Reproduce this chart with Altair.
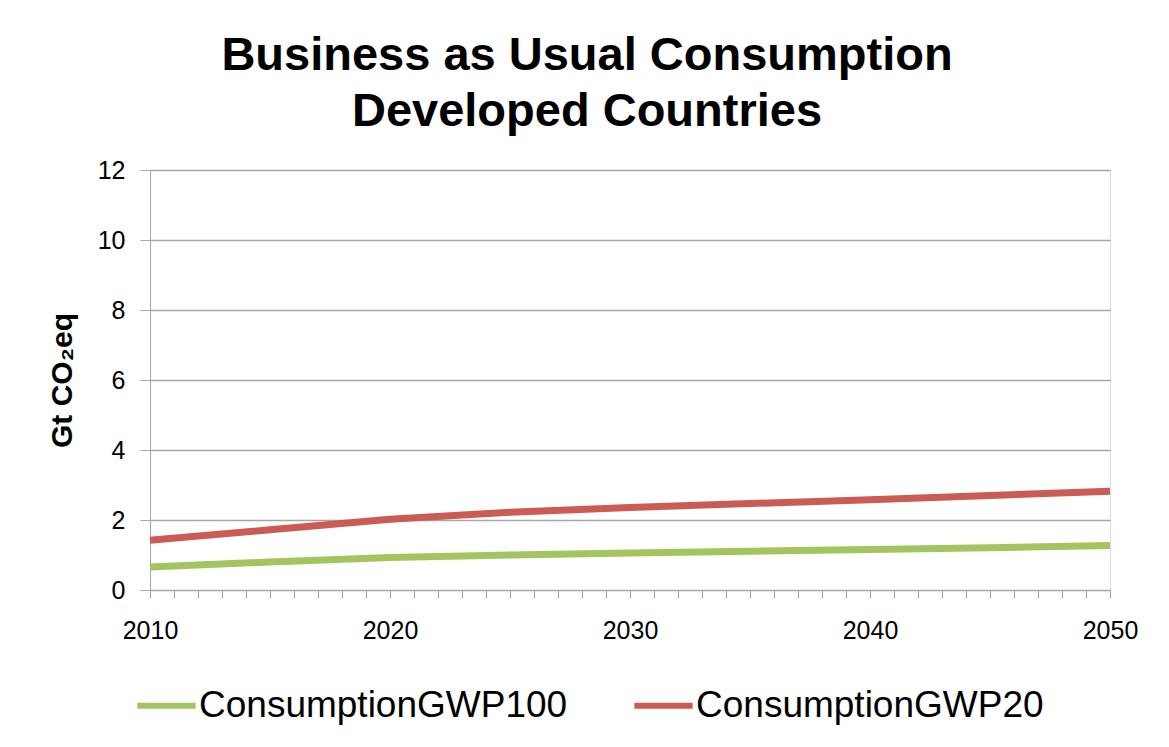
import altair as alt
import pandas as pd

years = [2010, 2015, 2020, 2025, 2030, 2035, 2040, 2045, 2050]
gwp100 = [0.66, 0.80, 0.93, 1.00, 1.06, 1.11, 1.16, 1.21, 1.27]
gwp20 = [1.42, 1.72, 2.02, 2.22, 2.36, 2.47, 2.58, 2.70, 2.82]
series_names = ["ConsumptionGWP100", "ConsumptionGWP20"]
series_colors = ["#A3C45F", "#CA5C54"]

rows = []
for name, vals in zip(series_names, [gwp100, gwp20]):
    for y, v in zip(years, vals):
        rows.append({"Year": y, "Value": v, "Series": name})
df = pd.DataFrame(rows)

FONT = "Liberation Sans"

chart = alt.Chart(df).mark_line(strokeWidth=7, strokeCap="butt").encode(
    x=alt.X("Year:Q",
            scale=alt.Scale(domain=[2010, 2050], nice=False, zero=False),
            axis=alt.Axis(values=list(range(2010, 2051, 1)), format="d",
                          labelExpr="datum.value % 10 == 0 ? datum.label : ''",
                          title=None, grid=False, tickSize=8, labelPadding=20,
                          labelFontSize=25, labelColor="#000000", labelFont=FONT,
                          domainColor="#A6A6A6", tickColor="#A6A6A6",
                          labelOverlap=False, labelFlush=False)),
    y=alt.Y("Value:Q",
            scale=alt.Scale(domain=[0, 12], nice=False),
            axis=alt.Axis(values=[0, 2, 4, 6, 8, 10, 12], title="Gt CO₂eq",
                          titleFontSize=30, titleFont=FONT, titleFontWeight="bold",
                          titleColor="#000000", titlePadding=20,
                          labelFontSize=25, labelColor="#000000", labelFont=FONT,
                          labelPadding=15, tickSize=10, grid=True,
                          gridColor="#A6A6A6", gridWidth=1.3,
                          domainColor="#A6A6A6", tickColor="#A6A6A6")),
    color=alt.Color("Series:N",
                    scale=alt.Scale(domain=series_names, range=series_colors),
                    legend=alt.Legend(title=None, orient="none", direction="horizontal",
                                      legendX=-16, legendY=503,
                                      symbolType="stroke", symbolSize=3400,
                                      symbolStrokeWidth=6, labelFontSize=37,
                                      labelFont=FONT, labelColor="#000000",
                                      labelOffset=0, columnPadding=54,
                                      labelLimit=600)),
).properties(
    width=960,
    height=420,
    title=alt.TitleParams(text=["Business as Usual Consumption", "Developed Countries"],
                          fontSize=47, font=FONT, fontWeight="bold", color="#000000",
                          anchor="middle", dx=-43, offset=22, lineHeight=56),
    autosize=alt.AutoSizeParams(type="none"),
    padding={"left": 142, "top": 162, "right": 51, "bottom": 149},
).configure_view(stroke=None).configure(background="white")

chart.save("out.html", embed_options={"renderer": "svg", "actions": False})
